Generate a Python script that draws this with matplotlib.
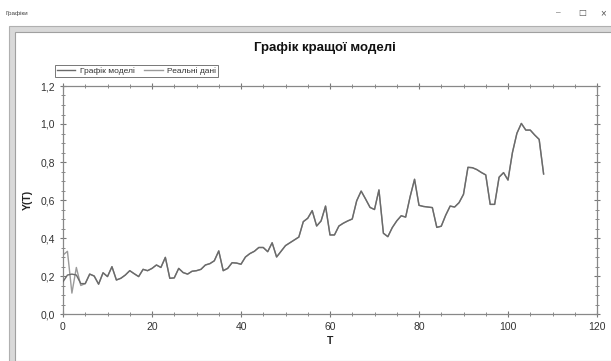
import matplotlib
matplotlib.use("Agg")
import matplotlib.pyplot as plt
from matplotlib.patches import Rectangle
from matplotlib.ticker import MultipleLocator, FuncFormatter

plt.rcParams["font.family"] = ["Liberation Sans Narrow", "Liberation Sans", "DejaVu Sans"]

# --- дані ------------------------------------------------------------ #
t = list(range(109))
real = [
    0.31, 0.33, 0.11, 0.245, 0.15, 0.16, 0.21, 0.20, 0.157, 0.217,
    0.197, 0.249, 0.179, 0.188, 0.205, 0.228, 0.212, 0.197, 0.235, 0.228,
    0.24, 0.258, 0.245, 0.298, 0.188, 0.19, 0.24, 0.218, 0.21, 0.225,
    0.228, 0.235, 0.258, 0.265, 0.28, 0.332, 0.228, 0.24, 0.27, 0.268,
    0.262, 0.30, 0.318, 0.33, 0.35, 0.35, 0.328, 0.375, 0.30, 0.33,
    0.36, 0.375, 0.39, 0.405, 0.486, 0.504, 0.544, 0.463, 0.49, 0.568,
    0.416, 0.416, 0.463, 0.478, 0.49, 0.50, 0.596, 0.647, 0.605, 0.561,
    0.55, 0.653, 0.425, 0.407, 0.455, 0.49, 0.517, 0.51, 0.617, 0.709,
    0.572, 0.566, 0.563, 0.56, 0.456, 0.462, 0.52, 0.568, 0.563, 0.586,
    0.63, 0.772, 0.77, 0.76, 0.745, 0.732, 0.577, 0.577, 0.72, 0.744,
    0.705, 0.85, 0.951, 1.003, 0.968, 0.968, 0.942, 0.919, 0.737,
]
model_start = [0.17, 0.205, 0.21, 0.205, 0.16]
model = model_start + real[len(model_start):]

title = "Графік кращої моделі"
labels = ["Графік моделі", "Реальні дані"]

# --- фігура ---------------------------------------------------------- #
W, H = 611, 361
fig = plt.figure(figsize=(W / 100, H / 100), dpi=100)
fig.patch.set_facecolor("white")


def fx(px):
    return px / W


def fy(py):
    return 1 - py / H


# рамка вікна
fig.text(fx(5), fy(13), "Графіки", fontsize=4.5, color="#444", va="center")
fig.text(fx(556), fy(13), "–", fontsize=6, color="#555", va="center")
fig.text(fx(578), fy(13), "□", fontsize=6, color="#555", va="center",
         family="DejaVu Sans")
fig.text(fx(600), fy(13), "×", fontsize=7, color="#555", va="center")
fig.patches.append(Rectangle((fx(9), 0), fx(W) - fx(9) + 0.01, fy(26),
                             transform=fig.transFigure, facecolor="#d9d9d9",
                             edgecolor="#b0b0b0", lw=0.8, zorder=-10))
fig.patches.append(Rectangle((fx(15), 0), 1, fy(32),
                             transform=fig.transFigure, facecolor="white",
                             edgecolor="#a0a0a0", lw=0.8, zorder=-9))

ax = fig.add_axes([fx(63), fy(314), fx(597) - fx(63), fy(86) - fy(314)])
ax.set_zorder(1)
ax.patch.set_alpha(0)
ax.plot(t, model, color="#6a6a6a", lw=1.0, label=labels[0], zorder=3)
ax.plot(t, real, color="#9a9a9a", lw=1.0, label=labels[1], zorder=2)

ax.set_xlim(0, 120)
ax.set_ylim(0, 1.2)
ax.xaxis.set_major_locator(MultipleLocator(20))
ax.xaxis.set_minor_locator(MultipleLocator(5))
ax.yaxis.set_major_locator(MultipleLocator(0.2))
ax.yaxis.set_minor_locator(MultipleLocator(0.05))
ax.yaxis.set_major_formatter(FuncFormatter(lambda v, p: f"{v:.1f}".replace(".", ",")))
ax.tick_params(which="both", direction="inout", colors="#777", labelcolor="#333",
               top=True, right=True, labelsize=7.5)
ax.tick_params(which="major", length=5, width=0.8)
ax.tick_params(which="minor", length=3, width=0.6)
for s in ax.spines.values():
    s.set_color("#888")
    s.set_linewidth(0.9)

ax.set_xlabel("T", fontsize=7.5, fontweight="bold", color="#222", labelpad=3)
ax.set_ylabel("Y(T)", fontsize=7.5, fontweight="bold", color="#222", labelpad=5)
fig.text(fx(325), fy(48), title, fontsize=9.5, fontweight="bold",
         ha="center", va="center", color="#111")

leg = ax.legend(loc="lower left", bbox_to_anchor=(fx(55), fy(77)),
                bbox_transform=fig.transFigure, ncol=2, fontsize=6,
                frameon=True, fancybox=False, borderpad=0.25, handlelength=2.2,
                columnspacing=1.2, handletextpad=0.5, borderaxespad=0)
leg.get_frame().set_edgecolor("#555")
leg.get_frame().set_linewidth(0.7)
for txt in leg.get_texts():
    txt.set_color("#333")

fig.savefig("out.png", dpi=100)
